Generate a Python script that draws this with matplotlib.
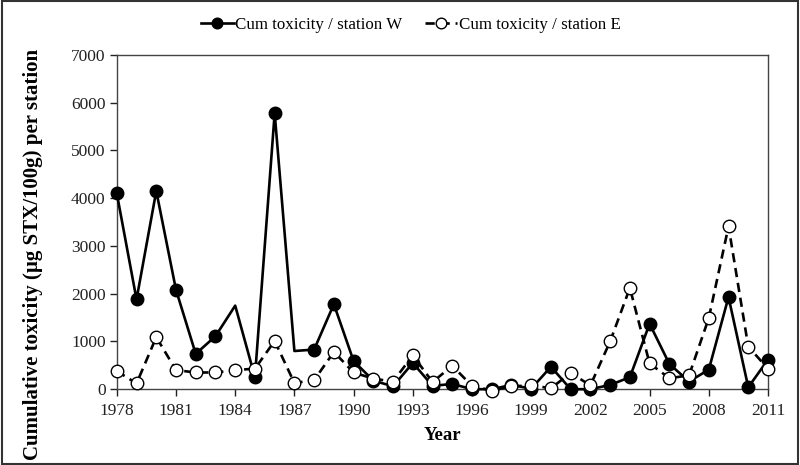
import numpy as np
import matplotlib
matplotlib.use("Agg")
import matplotlib.pyplot as plt
from matplotlib.patches import Rectangle

plt.rcParams["font.family"] = ["Liberation Serif", "DejaVu Serif"]

years = list(range(1978, 2012))

station_w = [4100, 1880, 4150, 2080, 740, 1110, 1750, 250, 5780, 800,
             830, 1780, 590, 180, 60, 550, 70, 110, 0, 0,
             90, 10, 470, 0, 0, 90, 250, 1370, 530, 160,
             410, 1930, 40, 620]
station_e = [380, 120, 1090, 400, 350, 350, 400, 430, 1010, 130,
             190, 780, 350, 220, 160, 710, 150, 490, 70, -30,
             60, 80, 20, 340, 80, 1000, 2120, 540, 230, 290,
             1490, 3410, 890, 430]

# years in the W series that are drawn without a marker
w_no_marker = [1984, 1987]

x_ticks = list(range(1978, 2012, 3))
y_ticks = list(range(0, 7001, 1000))

fig = plt.figure(figsize=(8, 4.65), dpi=100)
ax = fig.add_axes([0.146, 0.163, 0.814, 0.719])

w_marks = [i for i, yr in enumerate(years) if yr not in w_no_marker]

ax.plot(years, station_w, color="black", linewidth=1.9, linestyle="-",
        marker="o", markersize=9, markerfacecolor="black",
        markeredgecolor="black", markevery=w_marks,
        label="Cum toxicity / station W", zorder=3, clip_on=False)
ax.plot(years, station_e, color="black", linewidth=1.9, linestyle=(0, (3.5, 2.2)),
        marker="o", markersize=9, markerfacecolor="white",
        markeredgecolor="black", markeredgewidth=1.0,
        label="Cum toxicity / station E", zorder=4, clip_on=False)

ax.set_xlim(1978, 2011)
ax.set_ylim(0, 7000)
ax.set_xticks(x_ticks)
ax.set_yticks(y_ticks)
ax.tick_params(axis="both", labelsize=12.5, direction="out", length=5,
               width=1, colors="#222222", pad=3)
ax.tick_params(axis="x", pad=5)

for side in ["left", "bottom", "right", "top"]:
    ax.spines[side].set_color("#444444")
    ax.spines[side].set_linewidth(1.0)

ax.set_xlabel("Year", fontsize=13.5, fontweight="bold", labelpad=6)
fig.text(33 / 800, 1 - 254 / 465, "Cumulative toxicity (\u00b5g STX/100g) per station",
         rotation=90, ha="center", va="center", fontsize=15, fontweight="bold")

leg = ax.legend(loc="center", bbox_to_anchor=(0.452, 1.09), ncol=2,
                frameon=False, fontsize=12.2, handlelength=1.9,
                handletextpad=0.1, columnspacing=1.35, markerscale=0.85)

fig.patches.append(Rectangle((0.002, 0.003), 0.996, 0.994, transform=fig.transFigure,
                             fill=False, edgecolor="#333333", linewidth=1.5))

fig.savefig("out.png", dpi=100)
